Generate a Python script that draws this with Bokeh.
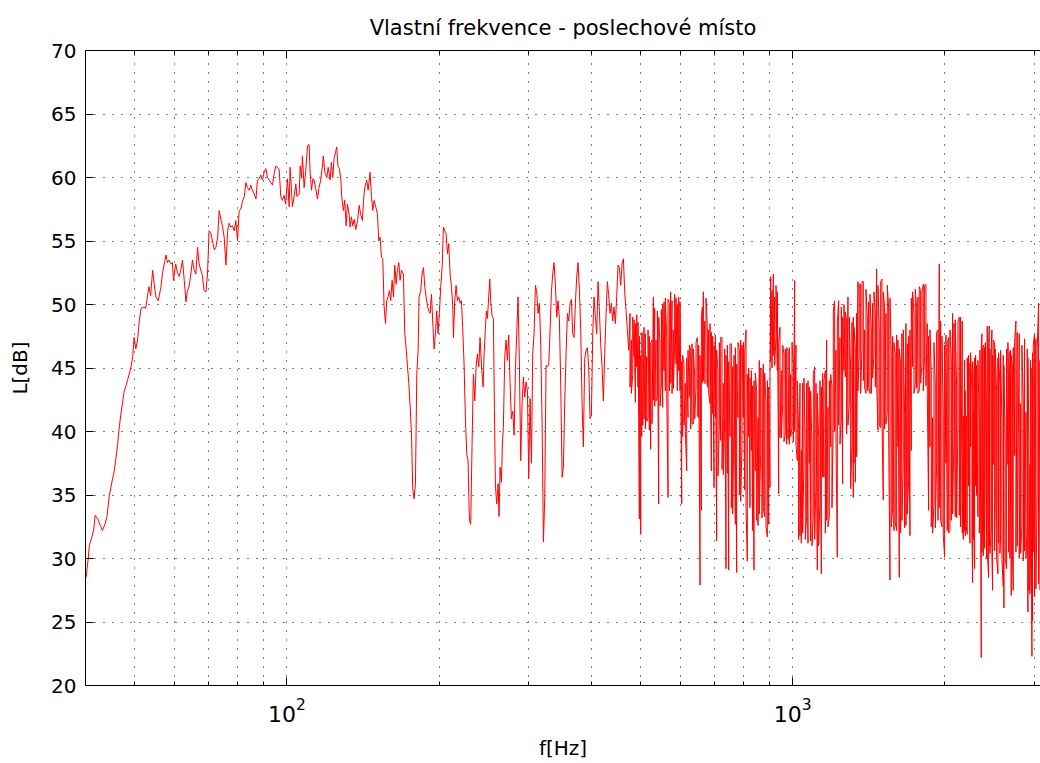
from bokeh.plotting import figure
from bokeh.models import FixedTicker, LogAxis, Range1d, ColumnDataSource, CustomJSTickFormatter
from bokeh.embed import file_html
from bokeh.resources import INLINE

FONT = "DejaVu Sans"

# Measured spectrum, split by frequency band (Hz, dB)
freq_a = [40.1, 40.5, 40.7, 41.5, 41.8, 42.3, 42.9, 43.2, 43.7, 44.1,
          44.6, 44.9, 45.3, 45.6, 45.9, 46.3, 46.6, 47.0, 47.4, 47.7,
          48.1, 48.4, 48.8, 49.2, 49.6, 49.9, 50.3, 50.7, 51.1, 51.5,
          52.2, 52.6, 53.0, 53.4, 53.8, 54.3, 54.7, 55.1, 55.7, 56.4,
          56.8, 57.7, 58.1, 58.5, 59.0, 59.4, 59.7, 60.3, 60.8, 61.3,
          61.7, 62.2, 62.7, 63.2, 63.6, 64.1, 64.6, 65.1, 65.6, 66.1,
          66.6, 67.1, 67.6, 68.1, 68.6, 69.2, 69.7, 70.2, 70.8, 71.3,
          71.9, 72.4, 73.0, 73.5, 74.1, 74.6, 75.2, 75.8, 76.4, 76.9,
          77.5, 78.1, 78.7, 79.3, 79.9, 80.5, 81.1, 81.8, 82.4, 83.0,
          83.6, 84.3, 84.9, 85.5, 86.2, 86.9, 87.5, 88.2, 88.8, 89.5,
          90.2, 90.9, 91.6, 93.0, 93.7, 94.4, 95.1, 95.9, 96.6, 97.3,
          98.0, 98.8, 99.5]
level_a = [28.5, 30.0, 31.0, 32.2, 33.4, 33.1, 32.5, 32.2, 32.7, 33.3,
           35.0, 35.6, 36.4, 36.9, 37.8, 39.0, 40.2, 41.4, 42.4, 43.2,
           43.6, 44.0, 44.5, 45.1, 45.9, 47.4, 46.5, 47.2, 48.7, 49.7,
           49.8, 49.7, 50.6, 51.4, 50.7, 52.7, 51.6, 50.6, 50.3, 51.4,
           52.5, 53.9, 53.3, 53.5, 53.2, 53.3, 51.9, 53.2, 52.5, 52.2,
           52.7, 53.5, 51.9, 50.2, 51.1, 51.4, 52.4, 53.5, 52.7, 52.4,
           54.5, 53.2, 52.7, 52.3, 51.1, 51.0, 52.4, 55.8, 55.6, 55.0,
           54.3, 54.5, 55.3, 57.4, 56.7, 56.2, 55.3, 53.1, 55.8, 56.4,
           56.1, 56.2, 55.8, 56.6, 55.0, 57.4, 57.5, 58.2, 58.5, 59.6,
           59.2, 59.0, 59.4, 59.0, 58.7, 58.3, 59.8, 59.9, 60.2, 59.8,
           60.4, 60.7, 60.0, 59.6, 59.4, 60.3, 60.9, 60.8, 60.6, 58.5,
           58.2, 58.6, 57.9]

freq_b = [100.3, 101.1, 101.5, 102.1, 102.6, 103.4, 104.2, 104.7, 105.8, 106.3,
          106.9, 107.4, 108.2, 109.0, 109.9, 110.7, 111.2, 111.9, 112.6, 113.2,
          114.1, 115.0, 115.8, 116.7, 117.6, 118.1, 118.9, 120.0, 120.7, 121.8,
          122.5, 123.3, 124.0, 125.0, 125.5, 126.2, 127.1, 127.9, 128.4, 129.4,
          130.2, 131.0, 131.8, 132.8, 133.4, 134.2, 135.0, 135.9, 136.9, 138.0,
          139.0, 140.0, 141.1, 141.8, 142.6, 143.9, 144.8, 146.1, 147.0, 147.9,
          148.8, 149.9, 151.1, 152.0, 152.9, 153.9, 154.8, 155.7, 156.7, 157.6,
          158.6, 159.5, 160.5, 161.5, 162.5, 163.5, 164.5, 165.5, 166.5, 167.5,
          168.5, 170.0, 171.1, 172.1, 173.2, 174.2, 175.3, 176.4, 177.4, 178.5,
          179.6, 180.7, 181.8, 182.6, 184.0, 185.1, 186.3, 187.4, 188.5, 189.7,
          190.8, 192.0, 193.2, 194.3, 195.5, 196.7, 197.9, 199.1, 200.3, 201.5,
          202.8, 204.0, 205.3, 206.5, 207.8, 209.0, 210.3, 211.6, 212.9, 213.5,
          214.8, 216.1, 217.4, 218.7, 220.1, 221.4, 222.7, 224.1, 225.5, 226.9,
          228.2, 229.6, 231.0, 232.4, 233.8, 235.3, 236.7, 238.1, 239.6, 241.0]
level_b = [59.9, 57.7, 60.8, 59.2, 57.7, 58.5, 59.5, 58.5, 58.7, 60.9,
           60.0, 61.7, 59.2, 60.5, 62.5, 62.6, 60.4, 59.0, 59.9, 59.8,
           59.1, 58.3, 59.2, 59.8, 60.9, 61.7, 60.4, 60.0, 60.8, 59.8,
           61.2, 60.0, 61.5, 62.1, 62.4, 60.9, 60.7, 59.8, 58.5, 57.4,
           58.2, 56.2, 57.9, 57.1, 56.1, 56.9, 56.2, 56.7, 55.9, 56.6,
           57.8, 57.1, 56.6, 58.2, 59.2, 59.8, 59.0, 60.4, 58.5, 57.4,
           58.2, 57.7, 57.1, 55.0, 55.3, 53.7, 53.6, 49.9, 48.5, 50.3,
           50.6, 51.1, 50.3, 51.9, 50.6, 53.1, 51.6, 52.7, 53.3, 51.9,
           52.7, 52.4, 47.7, 46.6, 45.1, 43.9, 42.0, 39.8, 35.5, 34.7,
           35.9, 44.5, 46.4, 50.6, 51.1, 52.4, 52.9, 51.4, 50.6, 49.9,
           49.5, 49.3, 50.8, 48.7, 46.5, 47.7, 49.5, 47.7, 49.3, 51.4,
           52.9, 56.1, 55.8, 55.6, 54.0, 54.8, 52.4, 51.4, 49.8, 47.4,
           50.3, 51.5, 50.3, 50.6, 50.1, 50.3, 48.2, 45.3, 40.9, 38.2,
           37.7, 33.0, 32.7, 39.0, 44.5, 42.4, 45.1, 46.1, 45.1, 47.4]

freq_c = [242.9, 244.4, 245.4, 246.9, 248.1, 249.2, 250.7, 251.9, 253.0, 254.6,
          256.1, 257.3, 258.5, 260.0, 261.6, 262.8, 264.0, 265.6, 266.8, 268.0,
          269.7, 271.3, 272.9, 274.6, 276.2, 277.9, 279.7, 281.4, 283.1, 284.8,
          286.5, 288.3, 290.0, 291.8, 293.6, 295.4, 297.2, 299.0, 300.8, 302.6,
          304.5, 306.3, 308.2, 310.1, 311.9, 313.8, 315.8, 317.7, 319.6, 321.6,
          323.5, 325.5, 327.5, 329.5, 331.5, 333.5, 335.5, 337.5, 339.6, 341.7,
          343.7, 345.8, 348.0, 350.1, 352.2, 354.3, 356.5, 358.7, 360.9, 363.1,
          365.3, 367.5, 369.7, 372.0, 374.2, 376.5, 378.8, 381.1, 383.4, 385.7,
          388.1, 390.4, 392.8, 395.2, 397.6, 400.1, 402.5, 404.9, 407.4, 409.9,
          412.4, 414.9, 417.4, 420.0, 422.5, 425.1, 427.7, 430.3, 432.9, 435.5,
          438.2, 440.8, 443.5, 446.2, 448.9, 451.7, 454.4, 457.2, 460.0, 462.8,
          465.6, 468.4, 471.3, 474.2]
level_c = [44.8, 43.5, 46.0, 48.1, 49.5, 48.9, 50.6, 52.0, 50.2, 49.1,
           48.9, 41.8, 35.7, 34.3, 35.9, 33.3, 37.2, 36.0, 39.0, 40.3,
           45.9, 47.2, 45.6, 47.6, 44.0, 41.0, 41.6, 39.7, 44.8, 47.7,
           50.6, 45.3, 37.7, 42.2, 44.3, 42.7, 43.9, 43.2, 36.3, 42.6,
           37.5, 46.1, 47.7, 51.5, 51.0, 49.3, 50.1, 46.8, 40.9, 31.3,
           34.7, 45.2, 45.1, 45.3, 48.0, 51.0, 52.4, 53.3, 51.6, 49.0,
           50.3, 48.9, 43.6, 36.4, 37.2, 42.2, 46.1, 49.3, 48.7, 50.1,
           50.4, 47.7, 47.4, 50.1, 52.2, 53.3, 51.2, 48.0, 42.3, 38.8,
           45.7, 46.4, 46.6, 45.1, 41.0, 41.3, 47.7, 50.6, 49.0, 47.7,
           51.8, 49.5, 46.9, 45.1, 42.4, 46.2, 49.3, 51.8, 50.7, 49.3,
           50.1, 48.7, 49.8, 48.5, 50.6, 53.1, 52.9, 51.5, 53.2, 53.6,
           51.0, 49.5, 48.0, 46.4]

# From about 480 Hz the trace turns into a dense band: each column is given
# by the level that was read and the opposite extreme of the same column.
freq_c2 = [477.0, 479.9, 482.9, 485.8, 488.8, 491.7, 494.7, 497.7, 500.8, 503.1,
           505.4, 508.4, 511.5, 514.6, 517.7, 520.9, 524.0, 527.2, 530.5, 533.7,
           536.9, 540.2, 543.5, 546.8, 550.1, 553.4, 556.8, 560.2, 563.7, 567.1,
           570.5, 574.0, 577.5, 581.0, 584.5, 588.1, 591.7, 595.3, 598.9]
level_c2 = [49.3, 47.2, 44.5, 45.9, 42.3, 45.1, 43.5, 33.1, 31.9, 39.6,
            47.6, 48.2, 47.7, 45.9, 41.1, 40.1, 38.6, 47.2, 50.6, 49.7,
            47.2, 42.7, 34.3, 46.9, 43.8, 41.9, 44.8, 43.2, 47.4, 34.8,
            50.1, 51.0, 50.3, 48.0, 46.9, 45.3, 43.2, 44.8, 43.2]
level_c2_alt = [43.5, 43.0, 49.0, 48.8, 48.5, 49.2, 48.6, 47.5, 46.0, 47.8,
                40.5, 41.0, 40.2, 40.8, 48.0, 47.5, 47.0, 40.6, 42.5, 42.0,
                42.4, 49.5, 49.0, 42.0, 49.6, 50.0, 50.2, 50.5, 43.0, 50.4,
                43.2, 43.8, 43.0, 43.4, 50.8, 50.5, 50.0, 50.6, 50.2]

freq_d = [603.5, 606.2, 609.9, 613.6, 617.4, 621.1, 624.9, 628.7, 632.5, 636.4,
          640.2, 644.1, 648.0, 651.9, 656.0, 660.0, 663.0, 666.0, 670.1, 674.1,
          678.2, 682.3, 686.5, 690.7, 694.9, 699.1, 703.4, 707.6, 711.9, 716.3,
          720.7, 725.0, 729.4, 733.9, 738.4, 742.9, 747.4, 751.9, 756.5, 761.1,
          765.7, 770.4, 775.1, 779.8, 784.6, 789.3, 794.1, 799.0, 803.8, 808.7,
          813.6, 818.6, 823.6, 828.6, 833.6, 838.7, 843.8, 848.9, 854.1, 859.3,
          864.5, 869.8, 875.1, 880.4, 885.8, 891.2, 896.6, 902.0, 904.8, 910.3,
          915.8, 921.4, 927.0, 932.6, 938.3, 944.1, 949.8, 955.6, 961.4, 967.2,
          973.1, 979.0, 985.0, 991.0, 997.0, 1003.0, 1009.1, 1015.2, 1021.4, 1027.6,
          1033.9, 1040.2, 1046.5, 1052.8, 1059.2, 1065.8, 1072.3, 1078.8, 1085.3, 1092.0,
          1098.6, 1105.3, 1112.0, 1118.8, 1125.6, 1132.5, 1139.4, 1146.3, 1153.2, 1160.3,
          1167.4, 1174.5, 1181.6, 1188.8, 1196.0, 1203.3, 1210.6, 1218.0, 1225.4, 1232.8,
          1240.4, 1247.9, 1255.5, 1263.1, 1270.8, 1278.6, 1286.4, 1294.2]
level_d = [34.3, 39.6, 45.3, 43.8, 36.9, 41.1, 42.7, 46.4, 46.9, 40.6,
           44.3, 43.5, 47.4, 41.1, 27.9, 33.8, 49.8, 51.0, 48.7, 43.8,
           48.2, 48.0, 42.2, 36.9, 41.4, 35.6, 41.1, 31.4, 44.8, 40.6,
           39.3, 47.4, 43.8, 41.1, 29.2, 36.7, 29.1, 39.6, 46.9, 45.1,
           41.1, 32.7, 28.9, 41.1, 46.4, 47.2, 38.8, 41.1, 35.4, 48.0,
           29.8, 39.6, 34.0, 38.5, 32.2, 29.1, 36.9, 43.2, 41.1, 45.6,
           38.2, 44.8, 45.3, 33.3, 42.2, 31.7, 32.7, 35.6, 52.2, 51.1,
           52.4, 50.6, 47.4, 44.8, 35.1, 48.2, 44.8, 42.2, 46.1, 39.8,
           39.0, 46.4, 46.6, 44.5, 40.3, 45.3, 51.9, 46.8, 37.7, 40.1,
           43.8, 38.5, 43.8, 37.5, 38.5, 33.3, 31.2, 37.5, 31.4, 38.8,
           33.3, 45.1, 35.9, 29.1, 39.6, 34.8, 28.8, 36.4, 36.4, 44.8,
           47.2, 41.9, 33.3, 38.8, 43.5, 40.9, 50.3, 46.4, 30.1, 50.3,
           47.4, 41.1, 35.9, 44.8, 44.3, 48.7, 50.6, 42.2]
level_d_alt = [45.5, 46.0, 40.5, 40.0, 45.8, 46.4, 46.8, 40.2, 40.6, 46.5,
               41.0, 47.0, 41.2, 46.8, 46.0, 49.0, 43.8, 44.0, 43.8, 50.5,
               43.5, 43.0, 48.5, 47.8, 47.5, 46.8, 47.6, 46.4, 36.5, 47.0,
               47.4, 37.0, 36.6, 46.5, 46.0, 46.8, 45.5, 46.9, 34.0, 33.5,
               46.0, 46.6, 45.3, 47.0, 35.0, 34.5, 46.8, 47.0, 46.2, 34.0,
               44.5, 45.0, 44.2, 44.8, 43.6, 44.0, 44.6, 33.0, 32.6, 33.5,
               45.0, 33.2, 34.0, 44.6, 32.5, 44.0, 43.5, 44.8, 45.5, 45.0,
               46.0, 45.2, 51.5, 51.0, 47.0, 39.5, 39.5, 46.8, 39.2, 46.5,
               46.6, 39.4, 39.0, 39.6, 47.0, 39.2, 40.0, 39.0, 44.0, 31.5,
               31.8, 31.2, 32.0, 44.2, 31.5, 43.8, 44.0, 43.5, 43.2, 31.0,
               44.5, 31.5, 43.8, 43.0, 31.0, 44.0, 43.5, 44.6, 44.0, 32.0,
               33.0, 32.5, 44.0, 44.5, 34.0, 49.5, 40.0, 39.5, 48.5, 40.5,
               39.0, 49.8, 49.0, 50.0, 49.4, 39.8, 40.5, 49.0]

freq_e = [1302.0, 1310.0, 1318.0, 1322.0, 1330.0, 1338.0, 1346.1, 1354.3, 1362.8, 1371.1,
          1379.4, 1387.8, 1396.2, 1404.7, 1413.2, 1421.8, 1430.5, 1439.2, 1448.0, 1456.8,
          1465.6, 1474.5, 1483.5, 1492.5, 1501.6, 1510.6, 1519.8, 1529.0, 1538.6, 1547.9,
          1557.3, 1566.8, 1576.3, 1585.9, 1595.5, 1605.2, 1615.0, 1624.8, 1634.7, 1644.6,
          1654.6, 1664.6, 1674.9, 1685.1, 1695.3, 1705.6, 1716.0, 1726.5, 1737.1, 1747.6,
          1758.2, 1768.9, 1779.7, 1790.5, 1801.4, 1812.4, 1823.4, 1834.5, 1845.7, 1856.9,
          1868.2, 1879.6, 1891.0, 1902.5, 1914.1, 1925.7, 1937.4, 1949.3, 1961.2, 1973.1,
          1985.1, 1997.2, 2009.3, 2021.5, 2033.8, 2046.2, 2058.6, 2071.2, 2083.8, 2096.4,
          2109.2, 2122.0, 2135.0]
level_e = [44.8, 39.0, 34.8, 37.5, 46.6, 49.3, 51.8, 46.4, 51.6, 46.6,
           51.8, 48.0, 43.0, 49.0, 50.2, 43.0, 48.0, 50.1, 46.1, 49.3,
           52.8, 40.1, 48.0, 40.3, 52.0, 34.6, 49.8, 49.3, 41.5, 49.8,
           28.3, 45.9, 34.0, 32.2, 46.1, 32.2, 38.8, 28.5, 45.3, 47.7,
           37.5, 41.4, 48.5, 46.9, 36.1, 31.8, 38.5, 45.1, 49.3, 43.8,
           49.8, 50.6, 43.2, 51.1, 45.3, 51.6, 45.9, 51.6, 48.5, 33.8,
           38.8, 44.8, 41.1, 34.3, 43.8, 37.5, 48.0, 53.2, 48.7, 32.5,
           41.4, 30.1, 37.5, 32.2, 47.4, 32.2, 45.9, 49.3, 39.6, 33.3,
           43.5, 40.3, 49.0]
level_e_alt = [35.5, 48.6, 49.0, 48.2, 36.0, 38.0, 43.2, 51.6, 43.0, 51.8,
               44.0, 43.4, 51.2, 43.2, 43.5, 50.8, 43.0, 44.2, 51.0, 43.5,
               44.0, 51.5, 40.5, 51.8, 41.0, 51.0, 40.2, 40.6, 51.5, 40.0,
               50.5, 32.5, 47.5, 47.0, 32.8, 47.6, 47.2, 46.5, 32.0, 33.0,
               48.0, 32.4, 32.6, 33.5, 47.5, 48.0, 50.5, 51.0, 43.0, 51.2,
               43.4, 43.0, 51.4, 43.8, 51.0, 43.2, 51.5, 43.6, 43.0, 47.5,
               48.0, 32.5, 32.0, 47.0, 32.4, 47.8, 33.0, 34.0, 33.0, 47.5,
               31.8, 46.8, 47.6, 47.0, 32.0, 48.0, 33.0, 33.5, 48.5, 48.8,
               33.2, 48.6, 33.4]

freq_f = [2148.0, 2164.4, 2174.3, 2187.4, 2194.0, 2204.0, 2214.1, 2227.5, 2241.0, 2247.8,
          2261.6, 2268.5, 2275.4, 2282.3, 2289.2, 2299.6, 2310.1, 2324.1, 2338.4, 2345.5,
          2359.7, 2366.9, 2374.1, 2381.3, 2395.8, 2403.1, 2417.7, 2425.0, 2439.8, 2447.2,
          2454.6, 2469.5, 2477.0, 2484.6, 2492.2, 2507.3, 2514.9, 2530.2, 2545.5, 2553.3,
          2568.9, 2576.7, 2592.3, 2608.0, 2615.9, 2631.8, 2648.0, 2664.1, 2672.1, 2688.3,
          2696.5, 2704.7, 2721.3, 2729.6, 2746.2, 2762.8, 2779.6, 2805.1, 2822.2, 2839.3,
          2856.6, 2873.9, 2891.5, 2909.1, 2917.9, 2931.2, 2944.5, 2953.5, 2971.5, 2980.5,
          2989.6, 3007.8, 3026.0, 3044.4, 3062.9, 3081.7]
level_f = [49.0, 48.7, 41.2, 45.6, 43.2, 41.2, 31.9, 35.7, 31.2, 38.8,
           43.2, 28.1, 44.2, 41.7, 29.2, 35.7, 35.0, 33.3, 40.8, 33.3,
           22.2, 47.7, 33.1, 46.8, 46.6, 37.4, 40.8, 48.3, 28.5, 48.3,
           46.5, 32.3, 48.0, 27.5, 37.4, 47.0, 34.0, 43.2, 28.8, 31.2,
           43.6, 31.9, 40.8, 27.8, 26.1, 39.1, 29.2, 37.4, 43.9, 46.3,
           36.0, 27.1, 44.9, 27.5, 38.1, 48.7, 47.8, 47.7, 42.2, 32.6,
           42.2, 47.3, 41.5, 32.6, 25.8, 39.5, 37.4, 30.5, 22.3, 25.1,
           30.5, 47.7, 47.3, 35.3, 50.1, 45.6]
level_f_alt = [32.5, 32.0, 31.5, 32.2, 31.8, 32.5, 45.8, 46.0, 45.4, 46.2,
               32.0, 45.5, 31.5, 32.2, 45.8, 46.0, 45.2, 45.6, 32.0, 46.4,
               46.8, 30.5, 46.5, 30.2, 30.8, 47.0, 30.0, 30.5, 46.8, 31.0,
               30.4, 46.6, 30.2, 46.0, 47.2, 30.6, 46.5, 30.0, 45.8, 46.2,
               30.4, 46.4, 30.0, 46.0, 45.2, 30.0, 46.5, 47.0, 30.5, 30.0,
               46.4, 46.0, 29.8, 46.6, 47.0, 30.5, 31.0, 30.0, 30.4, 46.8,
               29.8, 30.6, 30.0, 46.5, 45.8, 27.5, 27.2, 45.6, 45.0, 46.2,
               46.8, 27.0, 27.6, 46.5, 28.0, 27.5]

# Axis ticks
freq_major = [100, 1000]
freq_minor = [50, 60, 70, 80, 90, 200, 300, 400, 500, 600, 700, 800, 900, 2000, 3000]
level_ticks = [20, 25, 30, 35, 40, 45, 50, 55, 60, 65, 70]


def column_pairs(freqs, first, second):
    fx, lv = [], []
    for f, u, w in zip(freqs, first, second):
        fx += [f, f]
        lv += [u, w]
    return fx, lv


fc2, lc2 = column_pairs(freq_c2, level_c2, level_c2_alt)
fd, ld = column_pairs(freq_d, level_d, level_d_alt)
fe, le = column_pairs(freq_e, level_e, level_e_alt)
ff, lf = column_pairs(freq_f, level_f, level_f_alt)

freq = freq_a + freq_b + freq_c + fc2 + fd + fe + ff
level = level_a + level_b + level_c + lc2 + ld + le + lf
src = ColumnDataSource(data=dict(f=freq, L=level))

p = figure(width=1040, height=763, x_axis_type="log",
           x_range=Range1d(40, 3090), y_range=Range1d(20, 70),
           output_backend="svg", toolbar_location=None,
           min_border_left=85, min_border_right=0,
           min_border_top=50, min_border_bottom=78,
           background_fill_color="white", border_fill_color="white",
           outline_line_color=None)

p.title.text = "Vlastní frekvence - poslechové místo"
p.title.text_font = FONT
p.title.text_font_size = "21px"
p.title.text_font_style = "normal"
p.title.text_color = "black"
p.title.align = "center"
p.title.offset = 6
p.title.standoff = 22

xt = FixedTicker(ticks=freq_major, minor_ticks=freq_minor)
yt = FixedTicker(ticks=level_ticks, minor_ticks=[])


def style_axis(ax):
    ax.axis_line_color = "black"
    ax.axis_line_width = 1
    ax.major_tick_line_color = "black"
    ax.minor_tick_line_color = "black"
    ax.major_tick_in = 8
    ax.major_tick_out = 0
    ax.minor_tick_in = 4
    ax.minor_tick_out = 0
    ax.major_label_text_font = FONT
    ax.major_label_text_color = "black"
    ax.axis_label_text_font = FONT
    ax.axis_label_text_font_size = "20px"
    ax.axis_label_text_font_style = "normal"
    ax.axis_label_text_color = "black"


xaxis = p.xaxis[0]
xaxis.ticker = xt
style_axis(xaxis)
xaxis.major_label_text_font_size = "22px"
xaxis.major_label_standoff = 12
xaxis.axis_label = "f[Hz]"
xaxis.axis_label_standoff = 11

yaxis = p.yaxis[0]
yaxis.ticker = yt
style_axis(yaxis)
yaxis.major_label_text_font_size = "20px"
yaxis.major_label_standoff = 9
yaxis.axis_label = "L[dB]"
yaxis.axis_label_standoff = 16

# Box edge along the top: ticks only, no labels
top = LogAxis(ticker=xt, formatter=CustomJSTickFormatter(code="return ''"))
style_axis(top)
top.major_label_text_font_size = "1px"
top.major_label_standoff = 0
p.add_layout(top, "above")

for g, t in ((p.xgrid[0], xt), (p.ygrid[0], yt)):
    g.ticker = t
    g.grid_line_color = "black"
    g.grid_line_dash = "1 8"
    g.grid_line_width = 1
    g.minor_grid_line_color = "black"
    g.minor_grid_line_dash = "1 8"
    g.minor_grid_line_width = 1
p.ygrid[0].minor_grid_line_color = None

p.line("f", "L", source=src, line_color="#ff0000", line_width=1)

open("out.html", "w").write(file_html(p, INLINE))
